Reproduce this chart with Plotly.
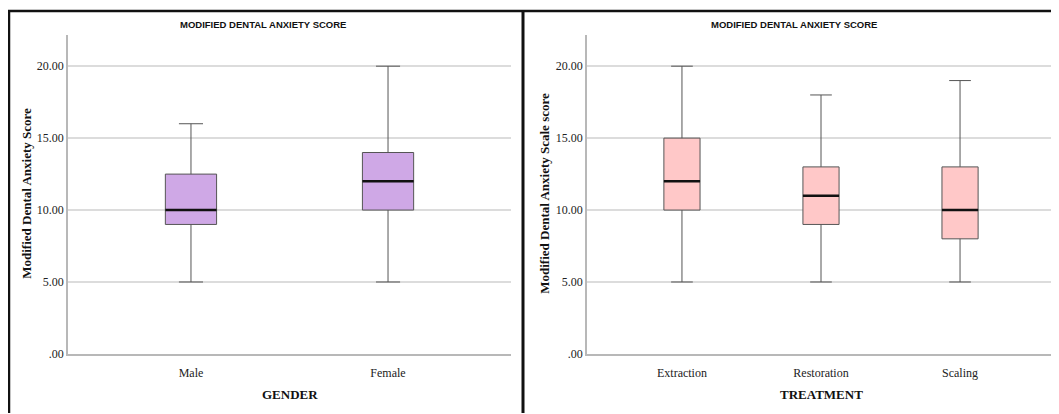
import plotly.graph_objects as go

# ---- data ----
gender_cats = ["Male", "Female"]
gender_min = [5, 5]
gender_q1 = [9, 10]
gender_med = [10, 12]
gender_q3 = [12.5, 14]
gender_max = [16, 20]

treat_cats = ["Extraction", "Restoration", "Scaling"]
treat_min = [5, 5, 5]
treat_q1 = [10, 9, 8]
treat_med = [12, 11, 10]
treat_q3 = [15, 13, 13]
treat_max = [20, 18, 19]

y_tickvals = [0, 5, 10, 15, 20]
y_ticktext = [".00", "5.00", "10.00", "15.00", "20.00"]

chart_title = "MODIFIED DENTAL ANXIETY SCORE"

# ---- layout geometry (page body has an 8px margin) ----
OFF = 8
W, H = 1059 - OFF, 414 - OFF
def px(x): return (x - OFF) / W
def py(y): return 1 - (y - OFF) / H

SERIF = "Liberation Serif, Times New Roman, serif"
SANS = "Liberation Sans, Arial, sans-serif"
BOXW = 0.26

fig = go.Figure()

fig.add_trace(go.Box(
    x=gender_cats, q1=gender_q1, median=gender_med, q3=gender_q3,
    lowerfence=gender_min, upperfence=gender_max,
    fillcolor="#CFA8E6", line=dict(color="#555555", width=1),
    width=BOXW, whiskerwidth=0.47, boxpoints=False,
    xaxis="x", yaxis="y", showlegend=False))

fig.add_trace(go.Box(
    x=treat_cats, q1=treat_q1, median=treat_med, q3=treat_q3,
    lowerfence=treat_min, upperfence=treat_max,
    fillcolor="#FFC8C8", line=dict(color="#555555", width=1),
    width=BOXW, whiskerwidth=0.6, boxpoints=False,
    xaxis="x2", yaxis="y2", showlegend=False))

shapes = []
# thick black median lines
for i, m in enumerate(gender_med):
    shapes.append(dict(type="line", xref="x", yref="y", x0=i - BOXW / 2, x1=i + BOXW / 2,
                       y0=m, y1=m, line=dict(color="#111111", width=2.5)))
for i, m in enumerate(treat_med):
    shapes.append(dict(type="line", xref="x2", yref="y2", x0=i - BOXW / 2, x1=i + BOXW / 2,
                       y0=m, y1=m, line=dict(color="#111111", width=2.5)))
# panel borders
border = dict(color="#111111", width=2.5)
shapes.append(dict(type="line", xref="paper", yref="paper", x0=px(9), x1=px(9), y0=py(11), y1=py(420), line=border))
shapes.append(dict(type="line", xref="paper", yref="paper", x0=px(8), x1=px(1065), y0=py(11), y1=py(11), line=border))
shapes.append(dict(type="line", xref="paper", yref="paper", x0=px(523), x1=px(523), y0=py(11), y1=py(420), line=dict(color="#111111", width=3)))

yaxis_common = dict(
    range=[0, 22.2], tickvals=y_tickvals, ticktext=y_ticktext,
    showgrid=True, gridcolor="#dcdcdc", gridwidth=1.5,
    showline=True, linecolor="#b8b8b8", linewidth=1.5,
    zeroline=False, ticks="", ticklen=0,
    tickfont=dict(family=SERIF, size=12, color="#222222"),
    domain=[py(360), py(35)], fixedrange=True)

xaxis_common = dict(
    showgrid=False, showline=True, linecolor="#b8b8b8", linewidth=1.5,
    ticks="", zeroline=False, ticklabelstandoff=7,
    tickfont=dict(family=SERIF, size=12, color="#222222"), fixedrange=True)

annotations = [
    dict(text="<b>" + chart_title + "</b>", x=px(263), y=py(25), xref="paper", yref="paper", showarrow=False,
         font=dict(family=SANS, size=9.5, color="#111111"), xanchor="center", yanchor="middle"),
    dict(text="<b>" + chart_title + "</b>", x=px(794), y=py(25), xref="paper", yref="paper", showarrow=False,
         font=dict(family=SANS, size=9.5, color="#111111"), xanchor="center", yanchor="middle"),
    dict(text="<b>Modified Dental Anxiety Score</b>", x=px(27), y=py(197), xref="paper", yref="paper",
         showarrow=False, textangle=-90, font=dict(family=SERIF, size=13, color="#111111"),
         xanchor="center", yanchor="middle"),
    dict(text="<b>Modified Dental Anxiety Scale score</b>", x=px(545), y=py(197), xref="paper", yref="paper",
         showarrow=False, textangle=-90, font=dict(family=SERIF, size=13, color="#111111"),
         xanchor="center", yanchor="middle"),
    dict(text="<b>GENDER</b>", x=px(290), y=py(401), xref="paper", yref="paper", showarrow=False,
         font=dict(family=SERIF, size=13, color="#111111"), xanchor="center", yanchor="middle"),
    dict(text="<b>TREATMENT</b>", x=px(821), y=py(401), xref="paper", yref="paper", showarrow=False,
         font=dict(family=SERIF, size=13, color="#111111"), xanchor="center", yanchor="middle"),
]

fig.update_layout(
    width=W, height=H, margin=dict(l=0, r=0, t=0, b=0),
    paper_bgcolor="white", plot_bgcolor="white",
    xaxis=dict(domain=[px(68), px(511)], range=[-0.624, 1.624], anchor="y",
               type="category", **xaxis_common),
    yaxis=dict(anchor="x", **yaxis_common),
    xaxis2=dict(domain=[px(587), px(1055)], range=[-0.683, 2.683], anchor="y2",
                type="category", **xaxis_common),
    yaxis2=dict(anchor="x2", **yaxis_common),
    shapes=shapes, annotations=annotations,
)

fig.write_html("out.html")
